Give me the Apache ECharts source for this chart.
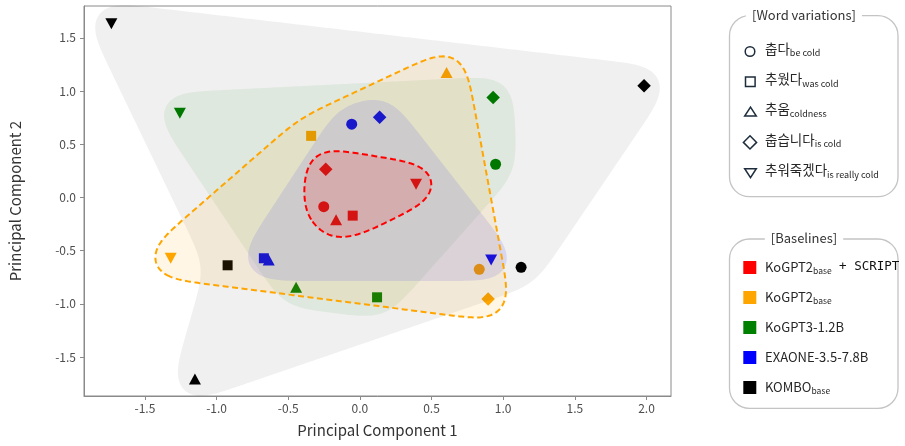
<!DOCTYPE html>
<html>
<head>
<meta charset="utf-8">
<script src="https://cdn.jsdelivr.net/npm/echarts@6/dist/echarts.min.js"></script>
<style>
  html, body { margin: 0; padding: 0; background: #fff; }
  #chart { width: 905px; height: 446px; }
</style>
</head>
<body>
<div id="chart"></div>
<script>
const FONT = "'Noto Sans CJK KR', 'Noto Sans', sans-serif"

const wordVariations = ['춥다', '추웠다', '추움', '춥습니다', '추워죽겠다']
const wordGlosses = ['be cold', 'was cold', 'coldness', 'is cold', 'is really cold']
const wordSymbols = ['circle', 'rect', 'triangle', 'diamond', 'triangle']
const wordRotations = [0, 0, 0, 0, 180]
const wordSizes = [11, 10, [12, 11], 13.5, [12, 11]]

const baselineNames = ['KoGPT2', 'KoGPT2', 'KoGPT3-1.2B', 'EXAONE-3.5-7.8B', 'KOMBO']
const baselineSubs = ['base', 'base', '', '', 'base']
const baselineSuffixes = [' + SCRIPT', '', '', '', '']
const baselineColors = ['#ff0000', '#ffa500', '#008000', '#0000ff', '#000000']
const hullOpacity = [0.14, 0.1, 0.07, 0.1, 0.06]
const hullDashed = [true, true, false, false, false]

// principal components, one value per word variation
const scriptPc1 = [-0.252, -0.05, -0.166, -0.238, 0.392]
const scriptPc2 = [-0.087, -0.171, -0.21, 0.265, 0.124]
const kogpt2Pc1 = [0.833, -0.34, 0.605, 0.895, -1.32]
const kogpt2Pc2 = [-0.676, 0.579, 1.174, -0.955, -0.572]
const kogpt3Pc1 = [0.947, 0.12, -0.445, 0.93, -1.256]
const kogpt3Pc2 = [0.312, -0.939, -0.845, 0.939, 0.792]
const exaonePc1 = [-0.057, -0.67, -0.636, 0.138, 0.916]
const exaonePc2 = [0.689, -0.572, -0.588, 0.754, -0.588]
const komboPc1 = [1.125, -0.923, -1.151, 1.983, -1.734]
const komboPc2 = [-0.657, -0.638, -1.707, 1.049, 1.632]

const pc1 = [scriptPc1, kogpt2Pc1, kogpt3Pc1, exaonePc1, komboPc1]
const pc2 = [scriptPc2, kogpt2Pc2, kogpt3Pc2, exaonePc2, komboPc2]

const xTicks = [-1.5, -1, -0.5, 0, 0.5, 1, 1.5, 2]
const yTicks = [-1.5, -1, -0.5, 0, 0.5, 1, 1.5]

const HULL_EXPAND = 21
const HULL_SMOOTH = 17
const CONCAVITY = 2

// convex hull (monotone chain), returns indices
const convexHull = (pts) => {
  const idx = pts.map((p, i) => i).sort((a, b) => pts[a][0] - pts[b][0] || pts[a][1] - pts[b][1])
  const cross = (o, a, b) => (a[0] - o[0]) * (b[1] - o[1]) - (a[1] - o[1]) * (b[0] - o[0])
  const lower = []
  const upper = []
  idx.forEach((i) => {
    while (lower.length >= 2 && cross(pts[lower[lower.length - 2]], pts[lower[lower.length - 1]], pts[i]) <= 0) lower.pop()
    lower.push(i)
  })
  idx.slice().reverse().forEach((i) => {
    while (upper.length >= 2 && cross(pts[upper[upper.length - 2]], pts[upper[upper.length - 1]], pts[i]) <= 0) upper.pop()
    upper.push(i)
  })
  lower.pop()
  upper.pop()
  return lower.concat(upper)
}

const segDist = (p, a, b) => {
  const dx = b[0] - a[0]
  const dy = b[1] - a[1]
  const t = Math.max(0, Math.min(1, ((p[0] - a[0]) * dx + (p[1] - a[1]) * dy) / (dx * dx + dy * dy)))
  return Math.hypot(p[0] - a[0] - t * dx, p[1] - a[1] - t * dy)
}

// dig inner points into the edge they are closest to (rough concave hull)
const digIn = (pts, hull) => {
  let changed = true
  while (changed) {
    changed = false
    const inner = pts.map((p, i) => i).filter((i) => hull.indexOf(i) === -1)
    for (const i of inner) {
      let bestK = -1
      let bestD = Infinity
      hull.forEach((h, k) => {
        const d = segDist(pts[i], pts[h], pts[hull[(k + 1) % hull.length]])
        if (d < bestD) {
          bestD = d
          bestK = k
        }
      })
      const a = pts[hull[bestK]]
      const b = pts[hull[(bestK + 1) % hull.length]]
      const len = Math.hypot(b[0] - a[0], b[1] - a[1])
      if (bestD > 15 && len / bestD > CONCAVITY) {
        hull.splice(bestK + 1, 0, i)
        changed = true
        break
      }
    }
  }
  return hull
}

// offset outline with round joins on convex corners
const roundOffset = (poly, e) => {
  const n = poly.length
  let area = 0
  for (let i = 0; i < n; i++) {
    const p = poly[i]
    const q = poly[(i + 1) % n]
    area += p[0] * q[1] - q[0] * p[1]
  }
  const s = area > 0 ? 1 : -1
  const dir = (a, b) => {
    const l = Math.hypot(b[0] - a[0], b[1] - a[1])
    return [(b[0] - a[0]) / l, (b[1] - a[1]) / l]
  }
  const out = []
  poly.forEach((p, i) => {
    const d1 = dir(poly[(i - 1 + n) % n], p)
    const d2 = dir(p, poly[(i + 1) % n])
    const n1 = [s * d1[1], -s * d1[0]]
    const n2 = [s * d2[1], -s * d2[0]]
    const turn = (d1[0] * d2[1] - d1[1] * d2[0]) * s
    if (turn >= 0) {
      const a1 = Math.atan2(n1[1], n1[0])
      let delta = Math.atan2(n2[1], n2[0]) - a1
      while (delta > Math.PI) delta -= 2 * Math.PI
      while (delta < -Math.PI) delta += 2 * Math.PI
      const steps = Math.max(2, Math.ceil(Math.abs(delta) / 0.08))
      for (let k = 0; k <= steps; k++) {
        const a = a1 + delta * k / steps
        out.push([p[0] + Math.cos(a) * e, p[1] + Math.sin(a) * e])
      }
    } else {
      const f = e / (1 + n1[0] * n2[0] + n1[1] * n2[1])
      out.push([p[0] + (n1[0] + n2[0]) * f, p[1] + (n1[1] + n2[1]) * f])
    }
  })
  return out
}

// even spacing along a closed outline
const resample = (pts, step) => {
  const n = pts.length
  const segs = []
  let total = 0
  for (let i = 0; i < n; i++) {
    const a = pts[i]
    const b = pts[(i + 1) % n]
    const l = Math.hypot(b[0] - a[0], b[1] - a[1])
    segs.push(l)
    total += l
  }
  const m = Math.max(12, Math.round(total / step))
  const out = []
  let seg = 0
  let acc = 0
  for (let k = 0; k < m; k++) {
    const target = k * total / m
    while (seg < n - 1 && acc + segs[seg] < target) {
      acc += segs[seg]
      seg++
    }
    const t = segs[seg] ? (target - acc) / segs[seg] : 0
    const a = pts[seg]
    const b = pts[(seg + 1) % n]
    out.push([a[0] + (b[0] - a[0]) * t, a[1] + (b[1] - a[1]) * t])
  }
  return out
}

const gaussSmooth = (pts, sigma) => {
  const n = pts.length
  const r = Math.ceil(sigma * 3)
  const w = []
  for (let j = -r; j <= r; j++) w.push(Math.exp(-j * j / (2 * sigma * sigma)))
  const wSum = w.reduce((a, b) => a + b, 0)
  return pts.map((p, i) => {
    let x = 0
    let y = 0
    for (let j = -r; j <= r; j++) {
      const q = pts[((i + j) % n + n) % n]
      x += q[0] * w[j + r]
      y += q[1] * w[j + r]
    }
    return [x / wSum, y / wSum]
  })
}

const hullSeries = (g) => ({
  type: 'custom',
  coordinateSystem: 'cartesian2d',
  z: 3,
  silent: true,
  data: [[pc1[g][0], pc2[g][0]]],
  renderItem: (params, api) => {
    const pts = pc1[g].map((x, i) => api.coord([x, pc2[g][i]]))
    const hull = digIn(pts, convexHull(pts))
    const raw = resample(roundOffset(hull.map((i) => pts[i]), HULL_EXPAND), 2)
    const outline = gaussSmooth(raw, HULL_SMOOTH / 2)
    return {
      type: 'polygon',
      shape: { points: outline },
      style: {
        fill: echarts.color.modifyAlpha(baselineColors[g], hullOpacity[g]),
        stroke: hullDashed[g] ? baselineColors[g] : 'none',
        lineWidth: 2,
        lineDash: [6, 3.5],
      },
    }
  },
})

const pointSeries = baselineColors.map((color, g) => ({
  type: 'scatter',
  name: baselineNames[g],
  z: 2,
  itemStyle: { color: color, opacity: 1 },
  data: pc1[g].map((x, i) => ({
    value: [x, pc2[g][i]],
    symbol: wordSymbols[i],
    symbolRotate: wordRotations[i],
    symbolSize: wordSizes[i],
  })),
}))

// legends
const legendGraphics = []
const boxStroke = '#c4c4c4'
const symbolStroke = '#1e2d3c'
const textColor = '#262626'

const legendBox = (top, bottom, title) => {
  legendGraphics.push({
    type: 'rect',
    shape: { x: 729.5, y: top, width: 168.5, height: bottom - top, r: 20 },
    style: { fill: '#fff', stroke: boxStroke, lineWidth: 1.3 },
    z: 10,
  })
  legendGraphics.push({
    type: 'text',
    x: 804,
    y: top - 1,
    z: 11,
    style: {
      text: title,
      align: 'center',
      verticalAlign: 'middle',
      fontSize: 13,
      fontFamily: FONT,
      fill: '#333',
      backgroundColor: '#fff',
      padding: [0, 6],
    },
  })
}

legendBox(15.7, 196.7, '[Word variations]')
legendBox(239, 408.3, '[Baselines]')

const wordShapes = [
  (y) => ({ type: 'circle', shape: { cx: 750, cy: y, r: 4.8 } }),
  (y) => ({ type: 'rect', shape: { x: 745.5, y: y - 4.8, width: 9.6, height: 9.6 } }),
  (y) => ({ type: 'polygon', shape: { points: [[750.5, y - 5], [756.3, y + 4], [744.7, y + 4]] } }),
  (y) => ({ type: 'polygon', shape: { points: [[750, y - 6.6], [756.6, y], [750, y + 6.6], [743.4, y]] } }),
  (y) => ({ type: 'polygon', shape: { points: [[744.7, y - 4], [756.3, y - 4], [750.5, y + 5]] } }),
]

wordVariations.forEach((w, i) => {
  const y = 51.5 + 30.3 * i
  legendGraphics.push(Object.assign(wordShapes[i](y), {
    z: 12,
    style: { fill: 'none', stroke: symbolStroke, lineWidth: 1.5 },
  }))
  legendGraphics.push({
    type: 'text',
    x: 765,
    y: y - 3,
    z: 12,
    style: {
      text: `{k|${w}}{s|${wordGlosses[i]}}`,
      verticalAlign: 'middle',
      fill: textColor,
      rich: {
        k: { fontSize: 13.5, lineHeight: 18, fontFamily: FONT, fill: textColor },
        s: { fontSize: 9, lineHeight: 9, verticalAlign: 'bottom', fontFamily: FONT, fill: textColor },
      },
    },
  })
})

baselineNames.forEach((name, i) => {
  const y = 267.5 + 30 * i
  legendGraphics.push({
    type: 'rect',
    z: 12,
    shape: { x: 743.3, y: y - 6.5, width: 13, height: 13 },
    style: { fill: baselineColors[i] },
  })
  let txt = `{m|${name}}`
  if (baselineSubs[i]) txt += `{s|${baselineSubs[i]}}`
  if (baselineSuffixes[i]) txt += `{t|${baselineSuffixes[i]}}`
  legendGraphics.push({
    type: 'text',
    x: 765,
    y: y - 0.5,
    z: 12,
    style: {
      text: txt,
      verticalAlign: 'middle',
      fill: textColor,
      rich: {
        m: { fontSize: 13, lineHeight: 16, fontFamily: FONT, fill: textColor },
        s: { fontSize: 8.5, lineHeight: 8, verticalAlign: 'bottom', fontFamily: FONT, fill: textColor },
        t: { fontSize: 12.5, lineHeight: 16, fontFamily: "'DejaVu Sans Mono', monospace", fill: '#111' },
      },
    },
  })
})

const axisGrey = '#8a8a8a'

const chart = echarts.init(document.getElementById('chart'), null, { renderer: 'canvas' })
chart.setOption({
  animation: false,
  backgroundColor: '#fff',
  textStyle: { fontFamily: FONT },
  grid: {
    left: 83,
    top: 6,
    width: 588,
    height: 390,
    show: true,
    borderColor: axisGrey,
    borderWidth: 1,
    backgroundColor: 'transparent',
  },
  xAxis: {
    type: 'value',
    min: -1.925,
    max: 2.171,
    name: 'Principal Component 1',
    nameLocation: 'middle',
    nameGap: 27,
    nameTextStyle: { fontSize: 15, color: '#333', fontFamily: FONT },
    splitLine: { show: false },
    axisLine: { onZero: false, lineStyle: { color: axisGrey } },
    axisTick: { show: true, length: 4, lineStyle: { color: axisGrey }, customValues: xTicks },
    axisLabel: {
      customValues: xTicks,
      margin: 6,
      fontSize: 12,
      color: '#4d4d4d',
      fontFamily: FONT,
      formatter: (v) => v.toFixed(1),
    },
  },
  yAxis: {
    type: 'value',
    min: -1.867,
    max: 1.8,
    name: 'Principal Component 2',
    nameLocation: 'middle',
    nameGap: 61,
    nameTextStyle: { fontSize: 15, color: '#333', fontFamily: FONT },
    splitLine: { show: false },
    axisLine: { onZero: false, lineStyle: { color: axisGrey } },
    axisTick: { show: true, length: 4, lineStyle: { color: axisGrey }, customValues: yTicks },
    axisLabel: {
      customValues: yTicks,
      margin: 8,
      fontSize: 12,
      color: '#4d4d4d',
      fontFamily: FONT,
      formatter: (v) => v.toFixed(1),
    },
  },
  graphic: { elements: legendGraphics },
  series: pointSeries.concat([4, 2, 3, 1, 0].map(hullSeries)),
})
</script>
</body>
</html>
